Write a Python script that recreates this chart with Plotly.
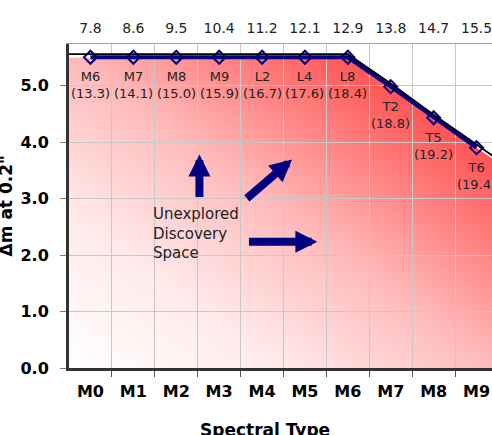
import base64
import plotly.graph_objects as go

# ---- data ----
spectral_types = ["M0", "M1", "M2", "M3", "M4", "M5", "M6", "M7", "M8", "M9"]
upper_axis_labels = ["7.8", "8.6", "9.5", "10.4", "11.2", "12.1", "12.9", "13.8", "14.7", "15.5"]
object_types = ["M6", "M7", "M8", "M9", "L2", "L4", "L8", "T2", "T5", "T6"]
object_mags = ["13.3", "14.1", "15.0", "15.9", "16.7", "17.6", "18.4", "18.8", "19.2", "19.4"]
delta_m = [5.5, 5.5, 5.5, 5.5, 5.5, 5.5, 5.5, 4.98, 4.43, 3.9]

NAVY = "#000080"
FONT = "DejaVu Sans"

x_idx = list(range(len(spectral_types)))
# area spans the full category width (flat on the left, continuing the last slope on the right)
x_area = [x_idx[0] - 0.5] + x_idx + [x_idx[-1] + 0.5]
y_area = [delta_m[0]] + delta_m + [delta_m[-1] + 0.5 * (delta_m[-1] - delta_m[-2])]

X_RANGE = [-0.5, 9.36]
Y_RANGE = [0, 5.735]
SHIFT = 0.055
Y2_RANGE = [Y_RANGE[0] - SHIFT, Y_RANGE[1] - SHIFT]


def to_paper_x(v):
    return (v - X_RANGE[0]) / (X_RANGE[1] - X_RANGE[0])


def to_paper_y(v):
    return (v - Y_RANGE[0]) / (Y_RANGE[1] - Y_RANGE[0])


# diagonal white -> red gradient (image drawn under the grid)
svg = ('<svg xmlns="http://www.w3.org/2000/svg" width="200" height="200" viewBox="0 0 200 200" '
       'preserveAspectRatio="none"><defs><linearGradient id="g" x1="0" y1="1" x2="1" y2="0">'
       '<stop offset="0" stop-color="#ffffff"/>'
       '<stop offset="0.25" stop-color="#ffeaea"/>'
       '<stop offset="0.5" stop-color="#ffbaba"/>'
       '<stop offset="0.8" stop-color="#ff5c5c"/>'
       '<stop offset="1" stop-color="#ff3232"/>'
       '</linearGradient></defs><rect width="200" height="200" fill="url(#g)"/></svg>')
gradient_src = "data:image/svg+xml;base64," + base64.b64encode(svg.encode()).decode()

# white mask above the limit curve (drawn under the grid as well)
mask_path = "M " + " L ".join(f"{xv},{yv}" for xv, yv in zip(x_area, y_area))
mask_path += f" L {x_area[-1]},{Y_RANGE[1] + 1} L {x_area[0]},{Y_RANGE[1] + 1} Z"

fig = go.Figure()

# black edge of the area (drawn slightly above the navy line)
fig.add_trace(go.Scatter(
    x=x_area, y=y_area, xaxis="x2", yaxis="y2",
    mode="lines", line=dict(color="black", width=1.8),
    hoverinfo="skip", showlegend=False))

# navy limit line
fig.add_trace(go.Scatter(
    x=x_idx, y=delta_m, mode="lines+markers",
    line=dict(color=NAVY, width=4),
    marker=dict(symbol="diamond-open", size=10, color=NAVY, line=dict(color=NAVY, width=2)),
    showlegend=False))

annotations = []
for xi, yi, t, m in zip(x_idx, delta_m, object_types, object_mags):
    annotations.append(dict(x=xi, y=yi, xref="x", yref="y", text=f"{t}<br>({m})",
                            showarrow=False, yanchor="top", xanchor="center", yshift=-10,
                            font=dict(family=FONT, size=13, color="#222")))

annotations.append(dict(x=1.40, y=2.38, xref="x", yref="y", xanchor="left", yanchor="middle",
                        align="left", showarrow=False,
                        text="Unexplored<br>Discovery<br>Space",
                        font=dict(family=FONT, size=15, color="#222")))

# arrows
for (tx, ty, ax, ay) in [(2.54, 3.78, 2.54, 3.0), (4.70, 3.69, 3.61, 2.98), (5.29, 2.235, 3.66, 2.235)]:
    annotations.append(dict(x=tx, y=ty, ax=ax, ay=ay, xref="x", yref="y", axref="x", ayref="y",
                            text="", showarrow=True, arrowhead=2, arrowsize=0.55,
                            arrowwidth=8, arrowcolor=NAVY, standoff=0, startstandoff=0))

annotations.append(dict(x=0.4645, y=-0.191, xref="paper", yref="paper", showarrow=False,
                        text="<b>Spectral Type</b>", xanchor="center", yanchor="middle",
                        font=dict(family=FONT, size=17, color="black")))
annotations.append(dict(x=-0.148, y=0.5, xref="paper", yref="paper", showarrow=False,
                        text='<b>\u0394m at 0.2"</b>', textangle=-90, xanchor="center", yanchor="middle",
                        font=dict(family=FONT, size=17, color="black")))

fig.update_layout(
    width=492, height=435,
    margin=dict(l=69, r=0, t=44, b=67, pad=0, autoexpand=False),
    paper_bgcolor="white", plot_bgcolor="rgba(0,0,0,0)",
    font=dict(family=FONT, color="black"),
    images=[dict(source=gradient_src, xref="paper", yref="paper",
                 x=to_paper_x(x_area[0]), y=to_paper_y(max(delta_m)),
                 sizex=to_paper_x(x_area[-1]) - to_paper_x(x_area[0]),
                 sizey=to_paper_y(max(delta_m)) - to_paper_y(0),
                 xanchor="left", yanchor="top", sizing="stretch", layer="below")],
    shapes=[dict(type="path", path=mask_path, xref="x", yref="y",
                 fillcolor="white", line=dict(width=0), layer="below")],
    xaxis=dict(range=X_RANGE, tickmode="array", tickvals=x_idx, ticktext=spectral_types,
               ticks="", showgrid=False, zeroline=False, automargin=False,
               showline=True, linecolor="#333", linewidth=3, ticklabeloverflow="allow",
               tickfont=dict(family=FONT, size=16, color="black", weight="bold"),
               ticklabelstandoff=7,
               minor=dict(tickmode="array", tickvals=[v + 0.5 for v in x_idx],
                          ticks="outside", ticklen=6, tickcolor="#555", tickwidth=1,
                          showgrid=True, gridcolor="#c8c8c8", gridwidth=1)),
    xaxis2=dict(range=X_RANGE, overlaying="x", side="top", anchor="y2", automargin=False,
                tickmode="array", tickvals=x_idx, ticktext=upper_axis_labels,
                ticks="", showgrid=False, zeroline=False, ticklabeloverflow="allow",
                showline=True, linecolor="#a0a0a0", linewidth=1,
                tickfont=dict(family=FONT, size=14, color="#222"), ticklabelstandoff=4),
    yaxis=dict(range=Y_RANGE, tickmode="array", tickvals=[0, 1, 2, 3, 4, 5], tickformat=".1f",
               ticks="outside", ticklen=6, tickcolor="#777", showgrid=True, gridcolor="#c8c8c8",
               zeroline=False, showline=True, linecolor="#333", linewidth=3, automargin=False,
               tickfont=dict(family=FONT, size=16, color="black", weight="bold"),
               ticklabelstandoff=8),
    yaxis2=dict(range=Y2_RANGE, overlaying="y", visible=False),
    annotations=annotations,
)

fig.write_html("out.html", config={"displayModeBar": False},
               post_script="document.body.style.margin='0px';")
